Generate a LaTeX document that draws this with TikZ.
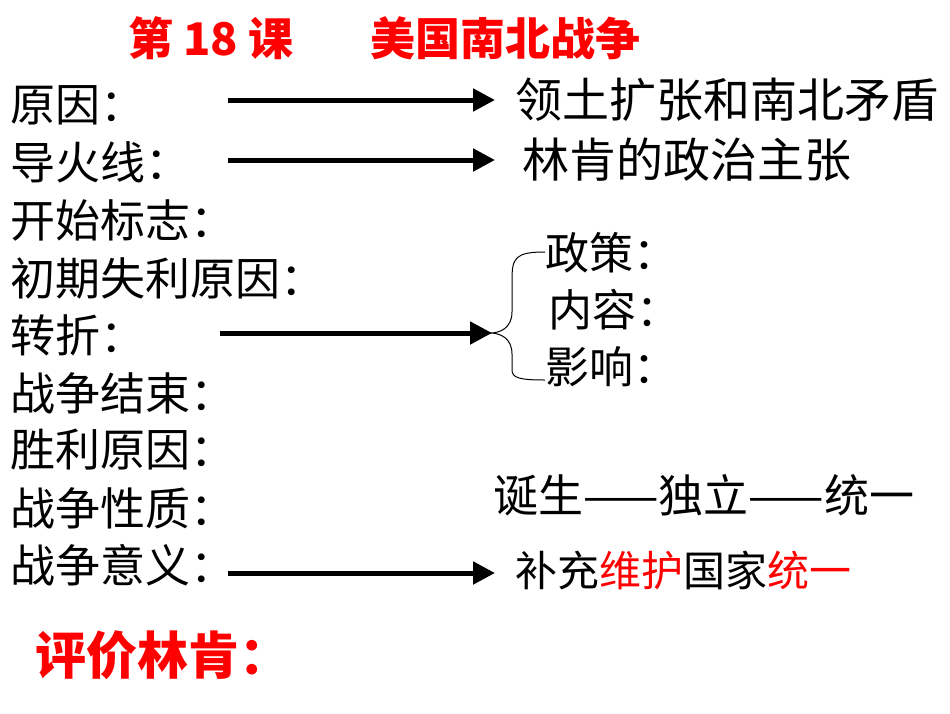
\documentclass[tikz,border=0pt]{standalone}
\usepackage{fontspec}
\setmainfont{Noto Sans CJK SC}
\usetikzlibrary{arrows.meta}
\begin{document}
\begin{tikzpicture}[x=1pt,y=-1pt,
  lbl/.style={anchor=west,inner sep=0pt,font=\fontsize{45}{45}\selectfont},
  rt/.style={anchor=west,inner sep=0pt,font=\fontsize{47}{47}\selectfont},
  ttl/.style={anchor=west,inner sep=0pt,text=red,font=\fontsize{45}{45}\selectfont\bfseries},
  arr/.style={line width=5pt,-{Triangle[length=22pt,width=22pt]}}]
\useasboundingbox (0,0) rectangle (950,713);
\node[ttl] (t1) at (128,38) {第 18 课};
\node[ttl] (t2) at (370,38) {美国南北战争};
\foreach \n/\t/\y in {a/原因：/105,b/导火线：/162,c/开始标志：/220,d/初期失利原因：/278,e/转折：/335,f/战争结束：/393,g/胜利原因：/450,h/战争性质：/508,i/战争意义：/565}
  \node[lbl] (\n) at (10,\y) {\t};
\coordinate (a1) at (228,100); \coordinate (a2) at (495,100);
\coordinate (b1) at (228,160); \coordinate (b2) at (495,160);
\coordinate (e1) at (220,333); \coordinate (e2) at (492,333);
\coordinate (i1) at (228,573); \coordinate (i2) at (495,573);
\draw[arr] (a1) -- (a2);
\draw[arr] (b1) -- (b2);
\draw[arr] (e1) -- (e2);
\draw[arr] (i1) -- (i2);
\node[rt] (r1) at (515,100) {领土扩张和南北矛盾};
\node[rt] (r2) at (522,160) {林肯的政治主张};
\node[rt,font=\fontsize{44}{44}\selectfont] (p1) at (545,253) {政策：};
\node[rt,font=\fontsize{44}{44}\selectfont] (p2) at (548,310) {内容：};
\node[rt,font=\fontsize{44}{44}\selectfont] (p3) at (545,367) {影响：};
\draw[line width=1pt] (545,252) .. controls (515,252) and (512,258) .. (512,280)
  -- (512,312) .. controls (512,328) and (500,333) .. (490,333)
  .. controls (500,333) and (512,338) .. (512,354)
  -- (512,370) .. controls (512,378) and (520,380) .. (545,380);
\node[rt,font=\fontsize{45}{45}\selectfont] (r3) at (493,495) {诞生——独立——统一};
\node[rt,font=\fontsize{42}{42}\selectfont] (r4) at (515,570) {补充\textcolor{red}{维护}国家\textcolor{red}{统一}};
\node[anchor=west,inner sep=0pt,text=red,font=\fontsize{51}{51}\selectfont\bfseries] (pj) at (35,655) {评价林肯：};
\end{tikzpicture}
\end{document}
